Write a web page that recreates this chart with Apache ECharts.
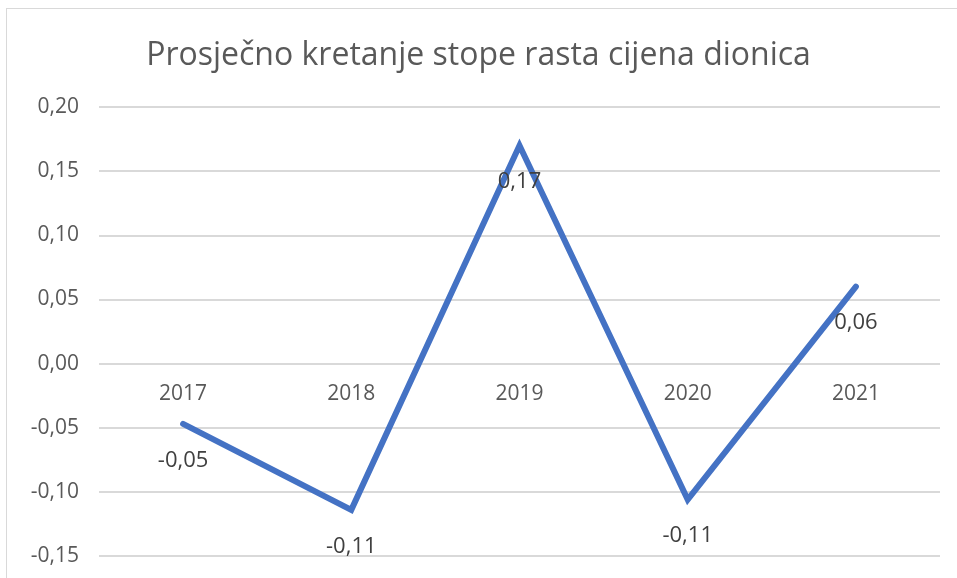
<!DOCTYPE html>
<html>
<head>
<meta charset="utf-8">
<script src="https://cdn.jsdelivr.net/npm/echarts@6/dist/echarts.min.js"></script>
<style>
  html, body { margin: 0; padding: 0; background: #fff; }
  #frame { position: absolute; left: 6px; top: 8px; width: 960px; height: 600px; border: 1px solid #d9d9d9; }
  #chart { position: absolute; left: 0; top: 0; width: 957px; height: 578px; }
</style>
</head>
<body>
<div id="frame"></div>
<div id="chart"></div>
<script>
const years = ["2017", "2018", "2019", "2020", "2021"];
const growth = [-0.047, -0.114, 0.17, -0.106, 0.06];
const yTicks = { min: -0.15, max: 0.2, step: 0.05 };

const fmt = v => (Math.abs(v) < 1e-9 ? 0 : v).toFixed(2).replace(".", ",");

// plot box
const gridTop = 107, gridBottom = 22, chartH = 578;
const plotH = chartH - gridTop - gridBottom;
// move category axis up to the zero line
const zeroOffset = -Math.round(plotH * (0 - yTicks.min) / (yTicks.max - yTicks.min));

const chart = echarts.init(document.getElementById("chart"));
chart.setOption({
  animation: false,
  textStyle: { fontFamily: "Open Sans" },
  title: {
    text: "Prosječno kretanje stope rasta cijena dionica",
    left: "center",
    top: 35,
    textStyle: { fontSize: 32, fontWeight: "normal", color: "#595959", fontFamily: "Open Sans" }
  },
  grid: { left: 99, right: 17, top: gridTop, bottom: gridBottom, outerBoundsMode: "none" },
  xAxis: {
    type: "category",
    data: years,
    boundaryGap: true,
    position: "bottom",
    offset: zeroOffset,
    axisLine: { onZero: false, show: false },
    axisTick: { show: false },
    axisLabel: { fontSize: 21, color: "#595959", margin: 20 }
  },
  yAxis: {
    type: "value",
    min: yTicks.min,
    max: yTicks.max,
    interval: yTicks.step,
    axisLine: { show: false },
    axisTick: { show: false },
    splitLine: { lineStyle: { color: "#d9d9d9", width: 2 } },
    axisLabel: { fontSize: 21, color: "#595959", margin: 20, formatter: fmt }
  },
  series: [{
    type: "line",
    data: growth,
    symbol: "circle",
    symbolSize: 1,
    itemStyle: { color: "rgba(68,114,196,0)" },
    lineStyle: { color: "#4472C4", width: 6, cap: "round", join: "miter" },
    label: {
      show: true,
      position: "bottom",
      distance: 25,
      fontSize: 22,
      color: "#404040",
      formatter: p => fmt(p.value)
    }
  }]
});
</script>
</body>
</html>
